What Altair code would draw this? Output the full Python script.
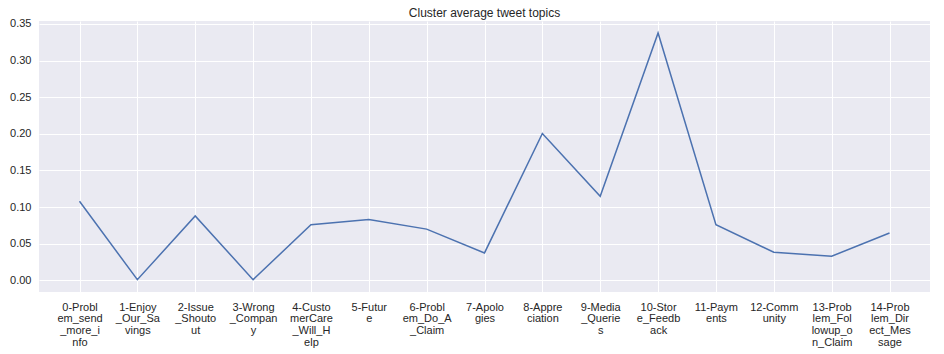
import altair as alt
import pandas as pd

topics = [
    "0-Problem_send_more_info",
    "1-Enjoy_Our_Savings",
    "2-Issue_Shoutout",
    "3-Wrong_Company",
    "4-CustomerCare_Will_Help",
    "5-Future",
    "6-Problem_Do_A_Claim",
    "7-Apologies",
    "8-Appreciation",
    "9-Media_Queries",
    "10-Store_Feedback",
    "11-Payments",
    "12-Community",
    "13-Problem_Followup_on_Claim",
    "14-Problem_Direct_Message",
]
values = [0.108, 0.001, 0.088, 0.001, 0.076, 0.083, 0.070, 0.0375, 0.2005,
          0.1147, 0.3376, 0.076, 0.0384, 0.033, 0.0647]


def wrap(s, n=7):
    return "\n".join(s[i:i + n] for i in range(0, len(s), n))


labels = [wrap(t) for t in topics]
df = pd.DataFrame({"topic": labels, "value": values})

font = "Liberation Sans"

chart = (
    alt.Chart(df)
    .mark_line(color="#4C72B0", strokeWidth=1.5, clip=False)
    .encode(
        x=alt.X(
            "topic:N",
            sort=labels,
            scale=alt.Scale(type="point", padding=0.7),
            axis=alt.Axis(
                title=None,
                labelAngle=0,
                labelExpr="split(datum.label, '\\n')",
                labelAlign="center",
                labelBaseline="top",
                labelLineHeight=11.7,
                labelPadding=9,
                labelFontSize=11,
                labelColor="#262626",
                labelFont=font,
                ticks=False,
                domain=False,
                grid=True,
                gridColor="white",
                gridWidth=1,
                labelLimit=0,
            ),
        ),
        y=alt.Y(
            "value:Q",
            scale=alt.Scale(domain=[-0.0158, 0.354], nice=False, zero=False),
            axis=alt.Axis(
                title=None,
                values=[0, 0.05, 0.1, 0.15, 0.2, 0.25, 0.3, 0.35],
                format=".2f",
                ticks=False,
                domain=False,
                grid=True,
                gridColor="white",
                gridWidth=1,
                labelPadding=8,
                labelFontSize=11,
                labelColor="#262626",
                labelFont=font,
            ),
        ),
    )
    .properties(
        width=891,
        height=271,
        title=alt.TitleParams(
            "Cluster average tweet topics",
            fontSize=12,
            fontWeight="normal",
            font=font,
            color="#262626",
            anchor="middle",
            offset=-2,
        ),
        view=alt.ViewBackground(fill="#EAEAF2", strokeWidth=0),
        autosize=alt.AutoSizeParams(type="none"),
        padding={"left": 39, "top": 21, "right": 14, "bottom": 62},
    )
    .configure_view(fill="#EAEAF2", strokeWidth=0)
    .configure(background="white")
)

chart.save("out.html", embed_options={"renderer": "svg", "actions": False})
